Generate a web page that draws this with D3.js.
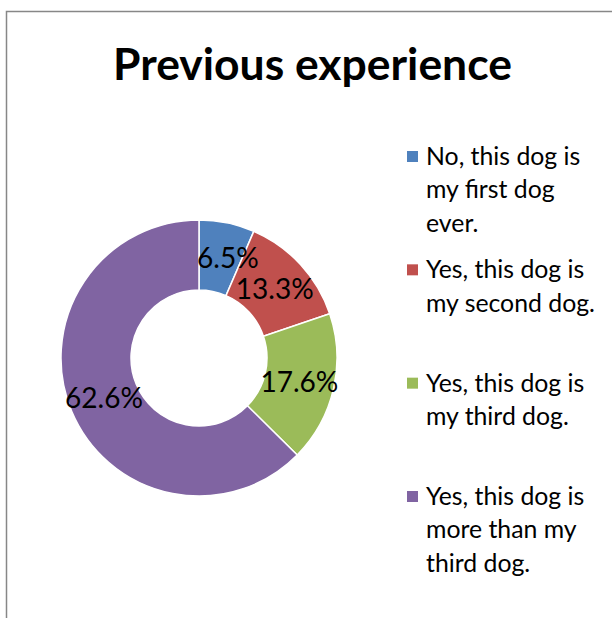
<!DOCTYPE html>
<html>
<head>
<meta charset="utf-8">
<script src="https://cdn.jsdelivr.net/npm/d3@7"></script>
<style>
  html, body { margin: 0; padding: 0; background: #fff; }
  svg { display: block; }
  text { font-family: Lato, "Open Sans", "DejaVu Sans", sans-serif; fill: #000; }
</style>
</head>
<body>
<svg id="chart" width="612" height="618"></svg>
<script>
const title = "Previous experience";
const categories = [
  "No, this dog is\nmy first dog\never.",
  "Yes, this dog is\nmy second dog.",
  "Yes, this dog is\nmy third dog.",
  "Yes, this dog is\nmore than my\nthird dog."
];
const values = [6.5, 13.3, 17.6, 62.6];
const colors = ["#4F81BD", "#C0504D", "#9BBB59", "#8064A2"];

const svg = d3.select("#chart");
const W = 612, H = 618;

// frame
svg.append("rect")
  .attr("x", 6.5).attr("y", 11.5)
  .attr("width", W + 20).attr("height", H + 20)
  .attr("fill", "#fff").attr("stroke", "#878787").attr("stroke-width", 1.5);

// helper: fit text to a target width
function fitWidth(sel, target) {
  const w = sel.node().getComputedTextLength();
  const fs = parseFloat(sel.attr("font-size"));
  sel.attr("font-size", fs * target / w);
}

// title
const t = svg.append("text")
  .attr("x", 312.5).attr("y", 80)
  .attr("text-anchor", "middle")
  .attr("font-weight", "bold")
  .attr("font-size", 46)
  .text(title);
fitWidth(t, 399);

// donut
const cx = 199, cy = 358, R = 138, r = 68;
const color = d3.scaleOrdinal().domain(categories).range(colors);
const pie = d3.pie().sort(null).value(d => d.v);
const data = pie(categories.map((c, i) => ({ c, v: values[i] })));
const arc = d3.arc().innerRadius(r).outerRadius(R);
const g = svg.append("g").attr("transform", `translate(${cx},${cy})`);
g.selectAll("path").data(data).join("path")
  .attr("d", arc)
  .attr("fill", d => color(d.data.c))
  .attr("stroke", "#fff").attr("stroke-width", 1.5);

// labels
const fmt = d => d3.format(".1f")(d) + "%";
const labelOffsets = [8, 0, 0, 0];
const lblG = g.selectAll("g.lbl").data(data).join("g").attr("class", "lbl")
  .attr("transform", (d, i) => {
    const [x, y] = arc.centroid(d);
    return `translate(${x + labelOffsets[i]},${y})`;
  });
lblG.append("text")
  .attr("text-anchor", "middle")
  .attr("dy", "0.36em")
  .attr("font-size", 29)
  .text(d => fmt(d.data.v));
// compress horizontally so "62.6%" is ~78px wide
const refW = lblG.filter((d, i) => i === 3).select("text").node().getComputedTextLength();
const sx = 78 / refW;
lblG.select("text").attr("transform", `scale(${sx},1)`);

// legend
const legendY = d3.scalePoint().domain(categories).range([165, 505]);
const lh = 33.3;
const leg = svg.append("g");
const items = leg.selectAll("g").data(categories).join("g")
  .attr("transform", d => `translate(0,${legendY(d)})`);
items.append("rect")
  .attr("x", 407).attr("y", -14).attr("width", 11).attr("height", 11)
  .attr("fill", d => color(d));
const texts = items.append("text").attr("font-size", 26);
texts.selectAll("tspan").data(d => d.split("\n")).join("tspan")
  .attr("x", 426).attr("y", (d, i) => i * lh)
  .text(d => d);
// fit legend font based on "my second dog."
const refSpan = texts.selectAll("tspan").filter(d => d === "my second dog.").node();
const lw = refSpan.getComputedTextLength();
texts.attr("font-size", 26 * 169 / lw);
</script>
</body>
</html>
